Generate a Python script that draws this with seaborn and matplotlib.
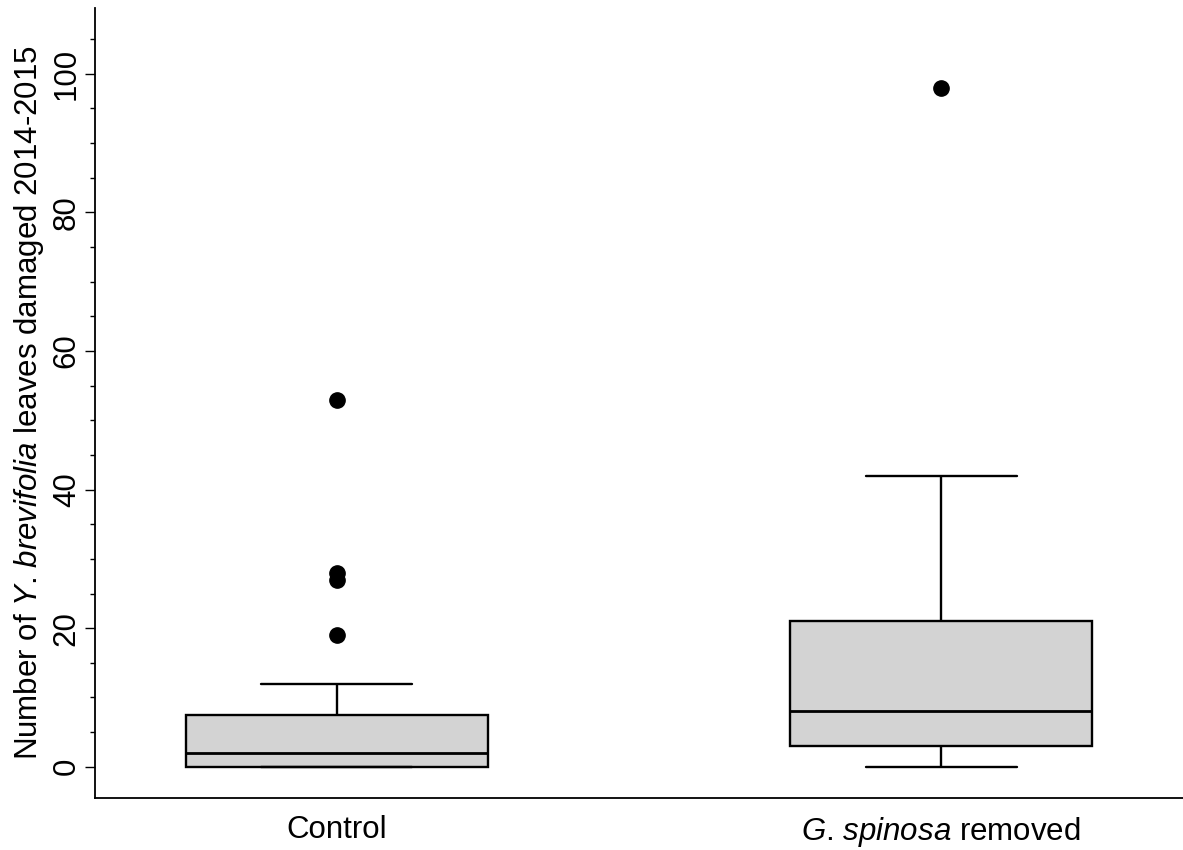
import matplotlib
matplotlib.use("Agg")
import matplotlib.pyplot as plt
from matplotlib.ticker import MultipleLocator
import seaborn as sns
import pandas as pd

# Raw leaf-damage counts reconstructed to match the box statistics in the picture
control_values = [0, 0, 0, 0, 0, 0, 0, 1, 1, 1, 2, 2, 3, 4, 5, 6, 7, 8, 12, 19, 27, 28, 53]
removed_values = [0, 1, 1, 2, 2, 3, 3, 4, 5, 6, 7, 8, 10, 12, 15, 18, 20, 22, 25, 30, 35, 42, 98]
categories = ["Control", "G. spinosa removed"]
tick_labels = ["Control", r"$\it{G}$. $\it{spinosa}$ removed"]
y_major = [0, 20, 40, 60, 80, 100]

sns.set_style("ticks")
plt.rcParams["font.family"] = ["Liberation Sans", "DejaVu Sans"]
plt.rcParams["mathtext.fontset"] = "custom"
plt.rcParams["mathtext.rm"] = "Liberation Sans"
plt.rcParams["mathtext.it"] = "Liberation Sans:italic"
plt.rcParams["text.color"] = "black"
plt.rcParams["axes.labelcolor"] = "black"
plt.rcParams["xtick.color"] = "black"
plt.rcParams["ytick.color"] = "black"

df = pd.DataFrame({
    "group": [categories[0]] * len(control_values) + [categories[1]] * len(removed_values),
    "value": control_values + removed_values,
})

fig = plt.figure(figsize=(11.83, 8.5), dpi=100)
ax = fig.add_axes([0.0803, 0.0612, 0.9197, 0.9294])

sns.boxplot(
    data=df, x="group", y="value", order=categories, ax=ax,
    color="#D3D3D3", saturation=1, width=0.5, linecolor="black", linewidth=1.7,
    fliersize=11,
    flierprops=dict(marker="o", markerfacecolor="black", markeredgecolor="black"),
    medianprops=dict(color="black", linewidth=2.0),
)

ax.set_xlim(-0.4, 1.4)
ax.set_ylim(-4.5, 109.5)
ax.set_yticks(y_major)
ax.yaxis.set_minor_locator(MultipleLocator(5))
ax.set_xticks([0, 1])
ax.set_xticklabels(tick_labels, fontsize=22.5)
ax.tick_params(axis="x", length=0, pad=12, colors="black")
ax.tick_params(axis="y", which="major", length=7.5, width=1.0, pad=2, labelsize=22.5,
               labelrotation=90, colors="black")
ax.tick_params(axis="y", which="minor", length=3.8, width=1.0, colors="black")
for lbl in ax.get_yticklabels():
    lbl.set_va("center")

ax.set_xlabel("")
ax.set_ylabel(r"Number of $\it{Y}$. $\it{brevifolia}$ leaves damaged 2014-2015", fontsize=22.5,
              labelpad=4, color="black")

sns.despine(ax=ax)
for s in ["left", "bottom"]:
    ax.spines[s].set_linewidth(1.3)
    ax.spines[s].set_color("black")

fig.savefig("out.png", dpi=100)
